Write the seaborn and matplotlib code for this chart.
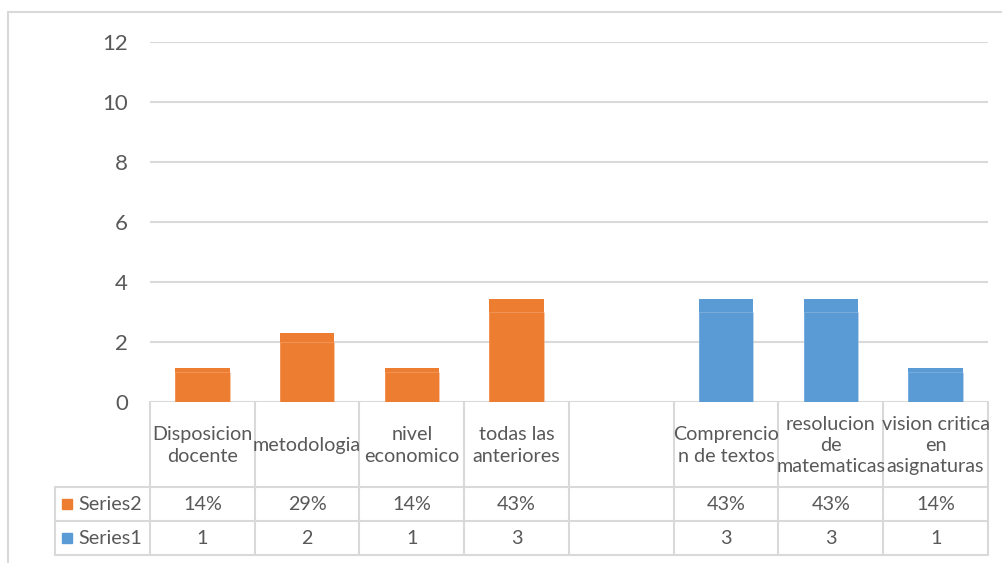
import matplotlib
matplotlib.use("Agg")
import matplotlib.pyplot as plt
import seaborn as sns
import pandas as pd
import numpy as np

# Data
categories = ["Disposicion\ndocente", "metodologia", "nivel\neconomico", "todas las\nanteriores",
              " ", "Comprencio\nn de textos", "resolucion\nde\nmatematicas", "vision critica\nen\nasignaturas"]
series1 = [1, 2, 1, 3, None, 3, 3, 1]
series2 = [0.143, 0.286, 0.143, 0.429, None, 0.429, 0.429, 0.143]
series2_labels = ["14%", "29%", "14%", "43%", "", "43%", "43%", "14%"]
series1_labels = ["1", "2", "1", "3", "", "3", "3", "1"]
group = ["a", "a", "a", "a", "a", "b", "b", "b"]

ORANGE = "#ED7D31"
BLUE = "#5B9BD5"
GRID = "#D9D9D9"
TXT = "#595959"

sns.set_theme(style="white")
plt.rcParams["font.family"] = ["Lato", "DejaVu Sans"]

df = pd.DataFrame({"cat": categories, "s1": series1, "s2": series2, "grp": group})
df = df[df["s1"].notna()].copy()
df["total"] = df["s1"] + df["s2"]

W, H = 1003, 563
fig = plt.figure(figsize=(W / 100, H / 100), dpi=100)

x0, x1, y0, y1 = 150, 988, 42, 402
ax = fig.add_axes([x0 / W, 1 - y1 / H, (x1 - x0) / W, (y1 - y0) / H])

pal = {"a": ORANGE, "b": BLUE}
sns.barplot(data=df, x="cat", y="total", hue="grp", order=categories, palette=pal,
            dodge=False, width=0.52, legend=False, ax=ax, saturation=1,
            edgecolor="none", zorder=3)
sns.barplot(data=df, x="cat", y="s1", hue="grp", order=categories, palette=pal,
            dodge=False, width=0.52, legend=False, ax=ax, saturation=1,
            edgecolor=(1, 1, 1, 0.18), linewidth=0.7, zorder=3)

ax.set_ylim(0, 12)
ax.set_xlim(-0.5, len(categories) - 0.5)
ax.set_yticks(range(0, 13, 2))
ax.yaxis.grid(True, color=GRID, linewidth=1.5, zorder=0)
ax.set_xticks([])
ax.set_xlabel("")
ax.set_ylabel("")
for s in ax.spines.values():
    s.set_visible(False)
ax.tick_params(axis="y", length=0, pad=16, labelsize=16, labelcolor=TXT)

# Data table drawn in pixel space
tax = fig.add_axes([0, 0, 1, 1], zorder=-1)
tax.set_xlim(0, W)
tax.set_ylim(H, 0)
tax.axis("off")

n = len(categories)
colw = (x1 - x0) / n
rows = [402, 487, 521, 555]
lc = dict(color=GRID, linewidth=1.5)
# outer chart border
tax.plot([8, 8], [12, H], **lc)
tax.plot([8, W], [12, 12], **lc)
# horizontals
tax.plot([55, x1], [rows[1], rows[1]], **lc)
tax.plot([55, x1], [rows[2], rows[2]], **lc)
tax.plot([55, x1], [rows[3], rows[3]], **lc)
# verticals
for i in range(n + 1):
    xx = x0 + i * colw
    tax.plot([xx, xx], [rows[0], rows[3]], **lc)
tax.plot([55, 55], [rows[1], rows[3]], **lc)

fs = 14.2
for i, lab in enumerate(categories):
    cx = x0 + (i + 0.5) * colw
    tax.text(cx, (rows[0] + rows[1]) / 2 + 1, lab, ha="center", va="center", fontsize=fs,
             color=TXT, linespacing=1.3)
    tax.text(cx, (rows[1] + rows[2]) / 2, series2_labels[i], ha="center", va="center",
             fontsize=fs, color=TXT)
    tax.text(cx, (rows[2] + rows[3]) / 2, series1_labels[i], ha="center", va="center",
             fontsize=fs, color=TXT)

for (r0, r1_), name, col in [((rows[1], rows[2]), "Series2", ORANGE), ((rows[2], rows[3]), "Series1", BLUE)]:
    cy = (r0 + r1_) / 2
    tax.add_patch(plt.Rectangle((62, cy - 5), 10, 10, color=col))
    tax.text(78, cy, name, ha="left", va="center", fontsize=fs, color=TXT)

fig.savefig("out.png", dpi=100)
